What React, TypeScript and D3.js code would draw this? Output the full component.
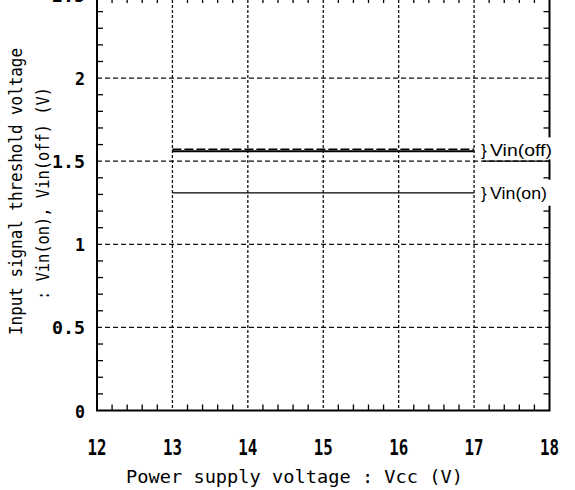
import React from "react";
import * as d3 from "d3";

const xTicks = [12, 13, 14, 15, 16, 17, 18];
const yTicks = [0, 0.5, 1, 1.5, 2, 2.5];
const yTickLabels = ["0", "0.5", "1", "1.5", "2", "2.5"];
const vcc = [13, 17];
const vinOff = [1.56, 1.56];
const vinOffUpper = [1.572, 1.572];
const vinOn = [1.31, 1.31];
const seriesLabels = ["Vin(off)", "Vin(on)"];

const W = 575;
const H = 490;
const L = 97, R = 549.5, T = -5, B = 410.5;

export default function App() {
  const x = d3.scaleLinear().domain([12, 18]).range([L, R]);
  const y = d3.scaleLinear().domain([0, 2.5]).range([B, T]);
  const line = d3
    .line<[number, number]>()
    .x((d) => x(d[0]))
    .y((d) => y(d[1]));

  const xMinor = d3.range(12, 18.001, 0.2).filter((v) => Math.abs(v - Math.round(v)) > 0.01);
  const yMinor = d3.range(0, 2.5001, 0.1).filter((v) => Math.abs(v * 2 - Math.round(v * 2)) > 0.01);
  const mono = "'DejaVu Sans Mono', monospace";

  const offPts = vcc.map((v, i) => [v, vinOff[i]] as [number, number]);
  const offUpPts = vcc.map((v, i) => [v, vinOffUpper[i]] as [number, number]);
  const onPts = vcc.map((v, i) => [v, vinOn[i]] as [number, number]);

  return (
    <svg
      width={W}
      height={H}
      style={{ position: "absolute", left: 0, top: 0, background: "#fff" }}
    >
      <rect x={0} y={0} width={W} height={H} fill="#fff" />
      {/* grid */}
      {yTicks
        .filter((v) => v > 0 && v < 2.5)
        .map((v) => (
          <line key={"gy" + v} x1={L} x2={R} y1={y(v)} y2={y(v)} stroke="#111" strokeWidth={1.2} strokeDasharray="5,3" />
        ))}
      {xTicks
        .filter((v) => v > 12 && v < 18)
        .map((v) => (
          <line key={"gx" + v} x1={x(v)} x2={x(v)} y1={T} y2={B} stroke="#111" strokeWidth={1.3} strokeDasharray="3,2" />
        ))}
      {/* minor ticks */}
      {xMinor.map((v) => (
        <g key={"mx" + v}>
          <line x1={x(v)} x2={x(v)} y1={B} y2={B - 6} stroke="#000" strokeWidth={1.3} />
          <line x1={x(v)} x2={x(v)} y1={T} y2={T + 8} stroke="#000" strokeWidth={1.3} />
        </g>
      ))}
      {yMinor.map((v) => (
        <g key={"my" + v}>
          <line x1={L} x2={L + 6} y1={y(v)} y2={y(v)} stroke="#000" strokeWidth={1.3} />
          <line x1={R} x2={R - 6} y1={y(v)} y2={y(v)} stroke="#000" strokeWidth={1.3} />
        </g>
      ))}
      {/* frame */}
      <rect x={L} y={T} width={R - L} height={B - T} fill="none" stroke="#000" strokeWidth={2} />

      {/* data */}
      <path d={line(offPts) || ""} fill="none" stroke="#000" strokeWidth={2} />
      <path d={line(offUpPts) || ""} fill="none" stroke="#000" strokeWidth={1.5} strokeDasharray="9,3" />
      <path d={line(onPts) || ""} fill="none" stroke="#000" strokeWidth={1.3} />

      {/* series labels */}
      {[vinOff[1] + 0.005, vinOn[1]].map((v, i) => (
        <g key={"lab" + i}>
          <rect x={481} y={y(v) - 13} width={74} height={i === 0 ? 22 : 26} fill="#fff" />
          <text
            x={481}
            y={y(v) + 6}
            fontFamily="'Liberation Sans', Arial, sans-serif"
            fontSize={17}
            fill="#000"
          >
            {"}"}
          </text>
          <text
            x={490}
            y={y(v) + 6}
            fontFamily="'Liberation Sans', Arial, sans-serif"
            fontSize={17}
            textLength={i === 0 ? 62 : 57}
            lengthAdjust="spacingAndGlyphs"
            fill="#000"
          >
            {seriesLabels[i]}
          </text>
        </g>
      ))}
      <line x1={483} x2={R} y1={y(1.5)} y2={y(1.5)} stroke="#000" strokeWidth={1.2} />

      {/* x tick labels */}
      {xTicks.map((v) => (
        <text
          key={"xl" + v}
          x={x(v)}
          y={455}
          textAnchor="middle"
          fontFamily={mono}
          fontSize={21}
          fontWeight="bold"
          textLength={19}
          lengthAdjust="spacingAndGlyphs"
          fill="#000"
        >
          {String(v)}
        </text>
      ))}
      {/* y tick labels */}
      {yTicks.map((v, i) => {
        const s = yTickLabels[i];
        const tl = s.length === 1 ? 10 : 33;
        return (
          <text
            key={"yl" + v}
            x={85 - tl}
            y={y(v) + 7}
            fontFamily={mono}
            fontSize={18}
            fontWeight="bold"
            textLength={tl}
            lengthAdjust="spacingAndGlyphs"
            fill="#000"
          >
            {s}
          </text>
        );
      })}
      {/* axis titles */}
      <text
        x={294.5}
        y={483}
        textAnchor="middle"
        fontFamily={mono}
        fontSize={18}
        textLength={337}
        lengthAdjust="spacingAndGlyphs"
        fill="#000"
      >
        Power supply voltage : Vcc (V)
      </text>
      <text
        transform="translate(22,191.5) rotate(-90)"
        textAnchor="middle"
        fontFamily={mono}
        fontSize={17}
        textLength={287}
        lengthAdjust="spacingAndGlyphs"
        fill="#000"
      >
        Input signal threshold voltage
      </text>
      <text
        transform="translate(49,193.5) rotate(-90)"
        textAnchor="middle"
        fontFamily={mono}
        fontSize={17}
        textLength={213}
        lengthAdjust="spacingAndGlyphs"
        fill="#000"
      >
        : Vin(on), Vin(off) (V)
      </text>
    </svg>
  );
}
